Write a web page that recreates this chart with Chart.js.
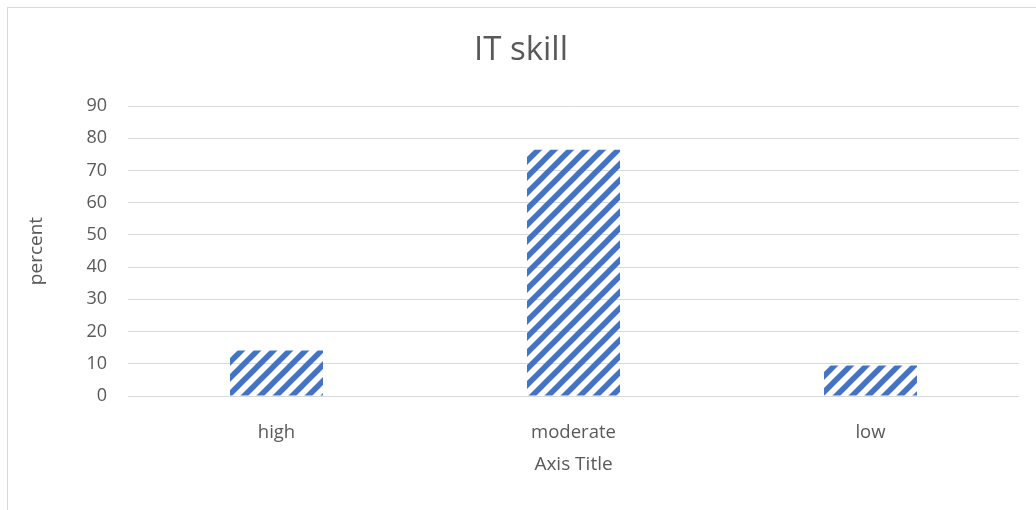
<!DOCTYPE html>
<html>
<head>
<meta charset="utf-8">
<script src="https://cdn.jsdelivr.net/npm/chart.js@4"></script>
<style>
  html, body { margin: 0; padding: 0; background: #fff; }
  #wrap { position: relative; width: 1036px; height: 510px; overflow: hidden; }
  #frame { position: absolute; left: 7px; top: 7px; width: 1100px; height: 600px;
           border-left: 1px solid #d9d9d9; border-top: 1px solid #d9d9d9; }
  canvas { position: absolute; left: 0; top: 0; }
</style>
</head>
<body>
<div id="wrap">
  <div id="frame"></div>
  <canvas id="chart" width="1036" height="510"></canvas>
</div>
<script>
// IT skill — single-series column chart with hatched bars.
const categories = ['high', 'moderate', 'low'];
const percentValues = [14.1, 76.4, 9.5];
const yTicks = [0, 10, 20, 30, 40, 50, 60, 70, 80, 90];

const TEXT = '#595959';
const GRID = '#d9d9d9';
const BLUE = '#4472c4';
const FONT = '"Open Sans", "Noto Sans", sans-serif';

// wide upward diagonal hatch, like the office pattern fill
function hatch() {
    const s = 16;
    const c = document.createElement('canvas');
    c.width = s; c.height = s;
    const g = c.getContext('2d');
    g.strokeStyle = BLUE;
    g.lineWidth = 5.5;
    for (let k = -1; k <= 1; k++) {
        // overshoot the tile so the seams join cleanly
        g.beginPath();
        g.moveTo(k * s - s, 2 * s);
        g.lineTo(k * s + 2 * s, -s);
        g.stroke();
    }
    return document.getElementById('chart').getContext('2d').createPattern(c, 'repeat');
}

new Chart(document.getElementById('chart'), {
    type: 'bar',
    data: {
        labels: categories,
        datasets: [{
            label: 'percent',
            data: percentValues,
            backgroundColor: hatch(),
            borderWidth: 0,
            categoryPercentage: 1,
            barPercentage: 0.313,
        }],
    },
    options: {
        responsive: false,
        animation: false,
        devicePixelRatio: 1,
        // left padding keeps the title centred on the framed area
        layout: { padding: { left: 23, right: 17, top: 0, bottom: 0 } },
        plugins: {
            legend: { display: false },
            tooltip: { enabled: false },
            title: {
                display: true,
                text: 'IT skill',
                color: TEXT,
                font: { family: FONT, size: 33, weight: 'normal' },
                padding: { top: 31, bottom: 35.4 },
            },
        },
        scales: {
            x: {
                grid: { display: false },
                border: { display: false },
                ticks: { color: TEXT, font: { family: FONT, size: 18.5 }, padding: 18 },
                title: {
                    display: true,
                    text: 'Axis Title',
                    color: TEXT,
                    font: { family: FONT, size: 19 },
                    padding: { top: 0, bottom: 34 },
                },
                afterFit(scale) { scale.height = 114; },
            },
            y: {
                min: 0,
                max: 90,
                afterBuildTicks(scale) { scale.ticks = yTicks.map(v => ({ value: v })); },
                grid: { color: GRID, lineWidth: 1, drawTicks: false },
                border: { display: false },
                ticks: { color: TEXT, font: { family: FONT, size: 18 }, padding: 21 },
                title: {
                    display: true,
                    text: 'percent',
                    color: TEXT,
                    font: { family: FONT, size: 19 },
                    padding: { top: 2, bottom: 0 },
                },
                afterFit(scale) { scale.width = 105; },
            },
        },
    },
});
</script>
</body>
</html>
